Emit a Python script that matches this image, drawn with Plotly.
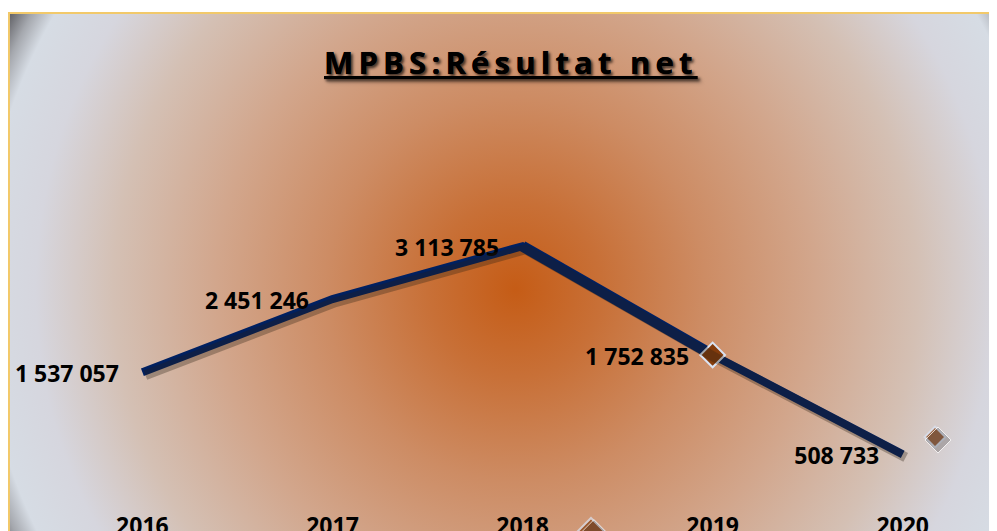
import base64
import plotly.graph_objects as go

# ---------------- data ----------------
years = [2016, 2017, 2018, 2019, 2020]
year_labels = ["2016", "2017", "2018", "2019", "2020"]
resultat_net = [1537057, 2451246, 3113785, 1752835, 508733]
title_text = "MPBS:Résultat net"
# isolated diamond markers seen in the picture
deco_x = [2018.36, 2020.17]
deco_y = [-450000, 726000]


def fmt(v):
    return f"{v:,}".replace(",", " ")


value_labels = [fmt(v) for v in resultat_net]

# ---------------- styling constants ----------------
# (the page body has an 8 px margin, compensated in the margins below)
W, H = 997, 531
ML, MT, MB, MR = 0, 5, 0, 8
X_RANGE = [2015.2929, 2020.49604]
Y_RANGE = [-550700, 6032500]
AXIS_POS = 29 / 526          # x axis line drawn at page y = 510
NAVY = "#002060"
BROWN = "#843C0C"
FONT = "Open Sans"

px_x = (X_RANGE[1] - X_RANGE[0]) / (W - ML - MR)
px_y = (Y_RANGE[1] - Y_RANGE[0]) / (H - MT - MB)
# shadow axes: same scale, shifted 3 px right and 3 px down
X2_RANGE = [X_RANGE[0] - 3 * px_x, X_RANGE[1] - 3 * px_x]
Y2_RANGE = [Y_RANGE[0] + 3 * px_y, Y_RANGE[1] + 3 * px_y]
# label axes: same scale, shifted 4 px down
Y3_RANGE = [Y_RANGE[0] + 4 * px_y, Y_RANGE[1] + 4 * px_y]

# radial gradient background
stops = [
    (0.00, "rgb(197,92,22)"),
    (0.15, "rgb(200,112,55)"),
    (0.33, "rgb(205,140,100)"),
    (0.52, "rgb(210,166,140)"),
    (0.70, "rgb(212,192,180)"),
    (0.835, "rgb(214,214,222)"),
    (0.93, "rgb(214,220,228)"),
    (0.965, "rgb(165,168,174)"),
    (1.00, "rgb(95,95,100)"),
]
stop_svg = "".join(f'<stop offset="{o}" stop-color="{c}"/>' for o, c in stops)
svg = (
    '<svg xmlns="http://www.w3.org/2000/svg" width="990" height="518" '
    'viewBox="0 0 990 518" preserveAspectRatio="none">'
    '<defs><radialGradient id="g" gradientUnits="userSpaceOnUse" cx="508" cy="272" r="575">'
    + stop_svg
    + '</radialGradient></defs><rect width="990" height="518" fill="url(#g)"/></svg>'
)
bg_src = "data:image/svg+xml;base64," + base64.b64encode(svg.encode()).decode()

fig = go.Figure()

# line shadow
fig.add_trace(go.Scatter(
    x=years, y=resultat_net, mode="lines",
    line=dict(color="rgba(40,30,20,0.32)", width=10),
    xaxis="x2", yaxis="y2", hoverinfo="skip", showlegend=False,
))

# diamond shadows
fig.add_trace(go.Scatter(
    x=deco_x, y=deco_y, mode="markers",
    marker=dict(symbol="diamond", size=[22, 20], color="rgba(40,40,40,0.35)"),
    xaxis="x2", yaxis="y2", hoverinfo="skip", showlegend=False,
))

# main line
fig.add_trace(go.Scatter(
    x=years, y=resultat_net, mode="lines",
    line=dict(color=NAVY, width=8),
    showlegend=False,
))

# thicker segment 2018-2019
fig.add_trace(go.Scatter(
    x=years[2:4], y=resultat_net[2:4], mode="lines",
    line=dict(color=NAVY, width=11),
    hoverinfo="skip", showlegend=False,
))

# value labels
fig.add_trace(go.Scatter(
    x=years, y=resultat_net, mode="markers+text",
    marker=dict(size=36, color="rgba(0,0,0,0)"),
    text=value_labels, textposition="middle left",
    textfont=dict(family=FONT, size=23, color="black", weight="bold"),
    xaxis="x", yaxis="y3", cliponaxis=False, hoverinfo="skip", showlegend=False,
))

# diamond on the 2019 point
fig.add_trace(go.Scatter(
    x=[years[3]], y=[resultat_net[3]], mode="markers",
    marker=dict(symbol="diamond", size=19, color=BROWN,
                line=dict(color="#DAE3F3", width=2)),
    showlegend=False,
))

# isolated diamonds
fig.add_trace(go.Scatter(
    x=deco_x, y=deco_y, mode="markers",
    marker=dict(symbol="diamond", size=[20, 16], color=BROWN,
                line=dict(color="#DAE3F3", width=2)),
    cliponaxis=False, showlegend=False,
))

fig.update_layout(
    width=W, height=H,
    margin=dict(l=ML, r=MR, t=MT, b=MB, pad=0, autoexpand=False),
    paper_bgcolor="white",
    plot_bgcolor="rgba(0,0,0,0)",
    xaxis=dict(
        range=X_RANGE, tickmode="array", tickvals=years, ticktext=year_labels,
        showgrid=False, zeroline=False, showline=False, automargin=False,
        anchor="free", position=AXIS_POS, ticks="",
        tickfont=dict(family=FONT, size=23, color="black", weight="bold"),
    ),
    yaxis=dict(range=Y_RANGE, showgrid=False, zeroline=False, showline=False,
               showticklabels=False, ticks="", automargin=False),
    xaxis2=dict(range=X2_RANGE, overlaying="x", visible=False),
    yaxis2=dict(range=Y2_RANGE, overlaying="y", visible=False),
    yaxis3=dict(range=Y3_RANGE, overlaying="y", visible=False),
    images=[dict(source=bg_src, xref="paper", yref="paper", x=0, y=1,
                 sizex=1, sizey=1,
                 xanchor="left", yanchor="top", sizing="stretch", layer="below")],
    shapes=[
        dict(type="line", xref="paper", yref="paper", x0=0, x1=1, y0=1, y1=1,
             line=dict(color="#F2C96A", width=2)),
        dict(type="line", xref="paper", yref="paper", x0=0.001, x1=0.001, y0=1,
             y1=0, line=dict(color="#F2C96A", width=2)),
    ],
    annotations=[dict(
        text=f'<span style="letter-spacing:5.2px">{title_text}</span>',
        xref="paper", yref="paper", x=(511 - 8) / 989, y=(539 - 62) / 526,
        xanchor="center", yanchor="middle", showarrow=False,
        font=dict(family=FONT, size=31, color="black", weight="bold",
                  lineposition="under", shadow="2px 2px 3px rgba(0,0,0,0.45)"),
    )],
    showlegend=False,
)

fig.write_html("out.html")
